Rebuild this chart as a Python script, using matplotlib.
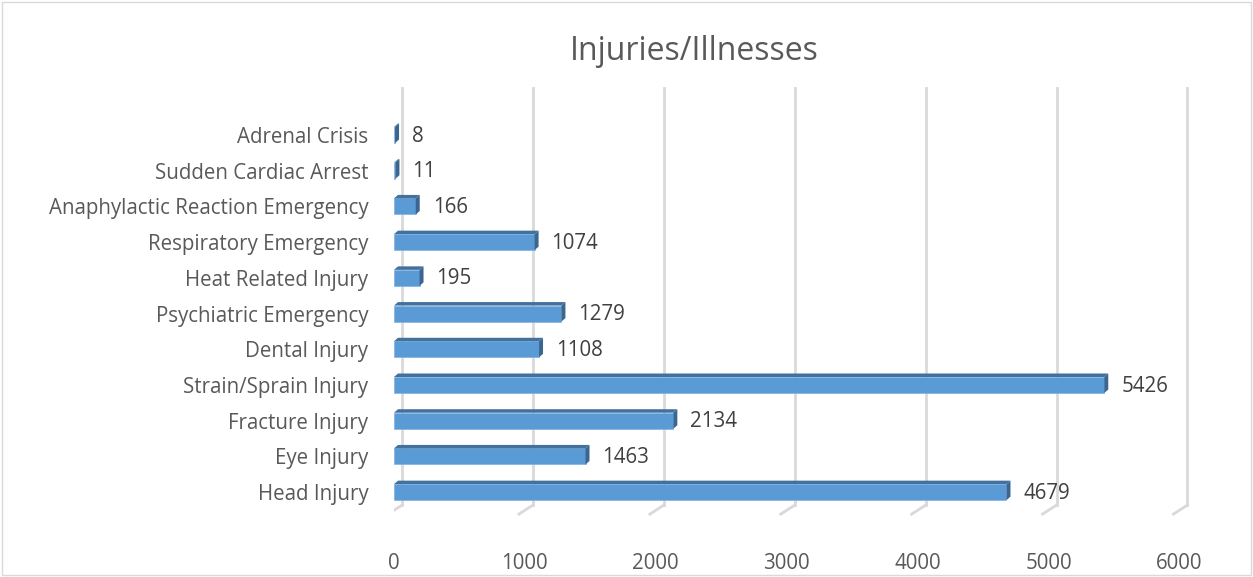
import matplotlib
matplotlib.use("Agg")
import matplotlib.pyplot as plt
from matplotlib.patches import Polygon, Rectangle

categories = ["Head Injury", "Eye Injury", "Fracture Injury", "Strain/Sprain Injury",
              "Dental Injury", "Psychiatric Emergency", "Heat Related Injury",
              "Respiratory Emergency", "Anaphylactic Reaction Emergency",
              "Sudden Cardiac Arrest", "Adrenal Crisis"]
counts = [4679, 1463, 2134, 5426, 1108, 1279, 195, 1074, 166, 11, 8]
xticks = [0, 1000, 2000, 3000, 4000, 5000, 6000]

plt.rcParams["font.family"] = ["Open Sans", "DejaVu Sans"]

W, H = 1253, 577
fig = plt.figure(figsize=(W / 100, H / 100), dpi=100)

# axes placed in pixels: x=0 at px 394, y bottom at px 520
left, right, top, bottom = 394, 1200, 85, 520
ax = fig.add_axes([left / W, 1 - bottom / H, (right - left) / W, (bottom - top) / H])
px_per_1000 = 130.9
ax.set_xlim(0, (right - left) / px_per_1000 * 1000)
ax.set_ylim(-0.78, 11.4)
for s in ax.spines.values():
    s.set_visible(False)

# pixel -> data helpers
dxp = lambda p: p / px_per_1000 * 1000
px_per_cat = (bottom - top) / (11.4 + 0.78)
dyp = lambda p: p / px_per_cat

# back-wall gridlines plus floor diagonals
grid_c = "#d9d9d9"
for v in xticks:
    ax.plot([v + dxp(8), v + dxp(8)], [-dyp(13), 11.4 - dyp(3)], color=grid_c, lw=2, zorder=1)
    ax.plot([v - dxp(6), v + dxp(8)], [-dyp(22), -dyp(13)], color=grid_c, lw=2, zorder=1)

front = "#5b9bd5"
topc = "#41719c"
sidec = "#3a6690"
bh = dyp(16)
ox, oy = dxp(4), dyp(3.5)
ypos = list(range(len(categories)))
ax.barh(ypos, counts, height=bh, color=front, edgecolor="#7fb2e5", linewidth=0.5, zorder=3)
for y, v in zip(ypos, counts):
    t = y + bh / 2
    ax.add_patch(Polygon([(0, t), (v, t), (v + ox, t + oy), (ox, t + oy)],
                         closed=True, facecolor=topc, edgecolor="none", zorder=3))
    ax.add_patch(Polygon([(v, t), (v + ox, t + oy), (v + ox, t + oy - bh), (v, y - bh / 2)],
                         closed=True, facecolor=sidec, edgecolor="none", zorder=3))
    ax.text(v + dxp(17), y - dyp(1), str(v), va="center", ha="left", fontsize=14.8,
            color="#404040", zorder=4)

ax.set_yticks(ypos)
ax.set_yticklabels(categories, fontsize=14.8, color="#595959")
ax.tick_params(axis="y", length=0, pad=18.5)
ax.set_xticks(xticks)
ax.set_xticklabels([str(v) for v in xticks], fontsize=14.8, color="#595959")
ax.tick_params(axis="x", length=0, pad=24)

fig.text(694 / W, 1 - 52 / H, "Injuries/Illnesses", ha="center", va="center",
         fontsize=23, color="#595959")
fig.patches.append(Rectangle((2 / W, 2 / H), 1 - 4 / W, 1 - 4 / H, transform=fig.transFigure,
                             fill=False, edgecolor="#d9d9d9", lw=1))

fig.savefig("out.png", dpi=100)
